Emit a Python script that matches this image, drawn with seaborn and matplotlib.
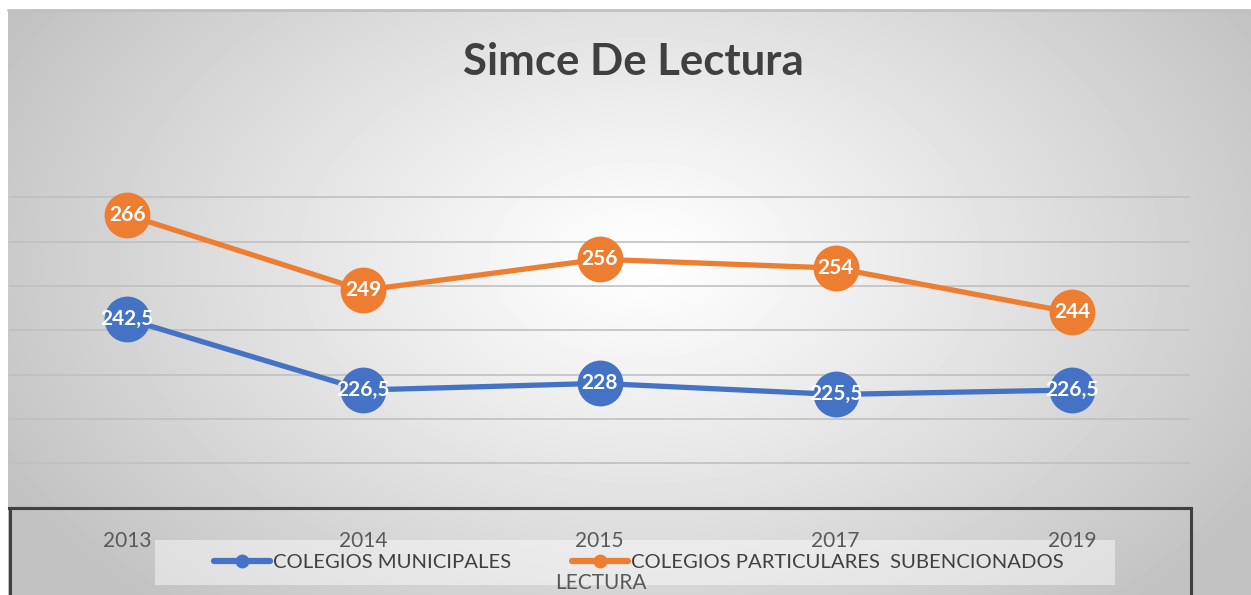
import numpy as np
import pandas as pd
import matplotlib.pyplot as plt
import seaborn as sns
from matplotlib.patches import Rectangle
from matplotlib.lines import Line2D

# Data
anios = ['2013', '2014', '2015', '2017', '2019']
municipales = [242.5, 226.5, 228, 225.5, 226.5]
particulares = [266, 249, 256, 254, 244]
serie_mun = 'COLEGIOS MUNICIPALES'
serie_par = 'COLEGIOS PARTICULARES  SUBENCIONADOS'

df = pd.DataFrame({
    'anio': anios * 2,
    'puntaje': municipales + particulares,
    'tipo': [serie_mun] * len(anios) + [serie_par] * len(anios),
})

sns.set_theme(style='white')
plt.rcParams['font.family'] = ['Lato', 'DejaVu Sans']

W, H = 1251, 595
fig = plt.figure(figsize=(W / 100, H / 100), dpi=100)

# radial gradient background
bg = fig.add_axes([8 / W, 0, 1 - 8 / W, 585 / H])
yy, xx = np.mgrid[0:585, 0:1243]
d = np.sqrt(((xx - 632) / 720) ** 2 + ((yy - 250) / 470) ** 2)
val = 1 - 0.24 * np.clip(d, 0, 1) ** 1.1
bg.imshow(val, cmap='gray', vmin=0, vmax=1, aspect='auto', interpolation='bilinear')
bg.set_axis_off()
# legend backdrop (drawn with the background, under the legend)
bg.add_patch(Rectangle((155 / W, 1 - 585 / H), 960 / W, 45 / H, transform=fig.transFigure,
                       facecolor='white', alpha=0.45, edgecolor='none', clip_on=False))
fig.add_artist(Line2D([8 / W, 1], [1 - 10 / H, 1 - 10 / H], color='#c0c0c0', lw=2))

# bottom dark box
fig.add_artist(Rectangle((10 / W, -0.02), (1191 - 10) / W, (0.02 + (595 - 507.5) / H),
                         fill=False, edgecolor='#404040', lw=2.2))

ax = fig.add_axes([9 / W, (595 - 507.5) / H, (1190 - 9) / W, (507.5 - 175) / H])
ax.patch.set_alpha(0)

colores = {serie_mun: '#4472C4', serie_par: '#ED7D31'}
sns.lineplot(data=df, x='anio', y='puntaje', hue='tipo', palette=colores,
             marker='o', markersize=33, markeredgewidth=0, linewidth=3.8, ax=ax,
             legend=True)

ax.set_ylim(200, 275)
ax.set_xlim(-0.5, 4.5)
ax.set_yticks(range(210, 271, 10))
ax.set_yticklabels([])
ax.grid(axis='y', color='#c0c0c0', lw=1.2)
ax.set_axisbelow(True)
for s in ['left', 'right', 'top']:
    ax.spines[s].set_visible(False)
ax.spines['bottom'].set_color('#404040')
ax.spines['bottom'].set_linewidth(2.2)
ax.tick_params(axis='x', length=0, pad=17, labelsize=15, labelcolor='#595959')
ax.tick_params(axis='y', length=0)
ax.set_xlabel('')
ax.set_ylabel('')

# data labels
def fmt(v):
    return (f'{v:.1f}' if v % 1 else f'{int(v)}').replace('.', ',')

for serie in (municipales, particulares):
    for i, v in enumerate(serie):
        ax.text(i, v, fmt(v), ha='center', va='center', color='white',
                fontsize=15, fontweight='bold', zorder=5)

handles, labels = ax.get_legend_handles_labels()
leg = ax.legend(handles, labels, loc='center', ncol=2,
                bbox_to_anchor=(639 / W, 1 - 562 / H), bbox_transform=fig.transFigure,
                fontsize=14.6, frameon=False, handlelength=2.75,
                handletextpad=0.15, columnspacing=3.0, borderpad=0.6, borderaxespad=0,
                labelcolor='#404040')
for h in leg.legend_handles:
    h.set_markersize(10)
    h.set_linewidth(4.5)

fig.text(601 / W, 1 - 583 / H, 'LECTURA', ha='center', va='center',
         fontsize=15, color='#595959')
fig.text(633 / W, 1 - 62 / H, 'Simce De Lectura', ha='center', va='center',
         fontsize=31.5, fontweight='bold', color='#404040')

fig.savefig('out.png', dpi=100)
